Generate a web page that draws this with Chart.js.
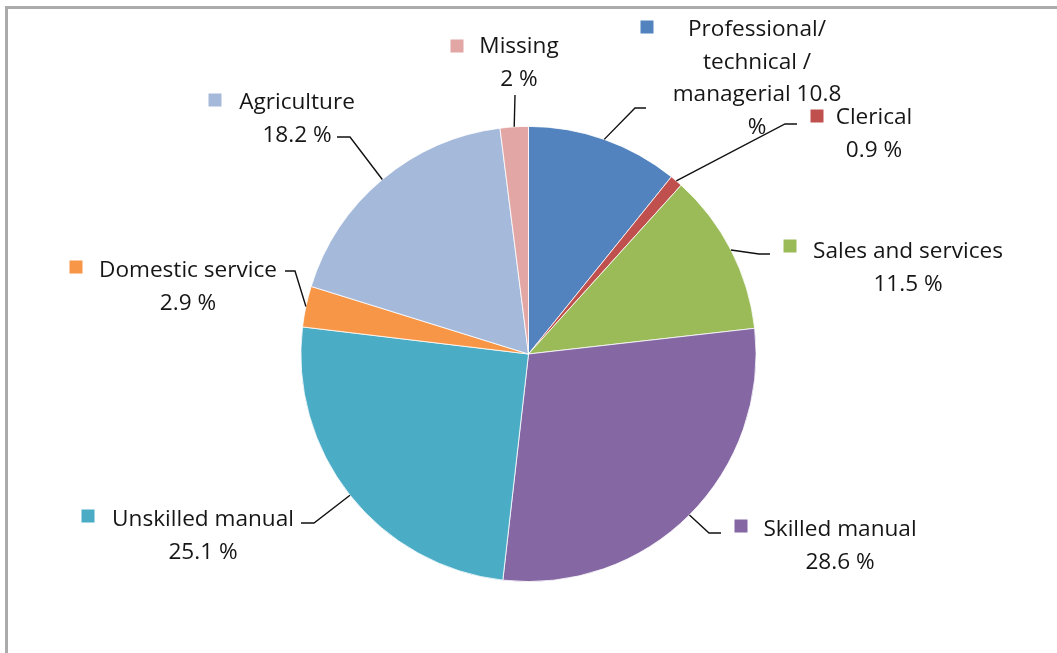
<!DOCTYPE html>
<html>
<head>
<meta charset="utf-8">
<script src="https://cdn.jsdelivr.net/npm/chart.js@4.4.1/dist/chart.umd.min.js"></script>
<style>
  html, body { margin: 0; padding: 0; background: #fff; overflow: hidden; }
  #wrap { position: relative; width: 1057px; height: 653px; }
  #frame {
    position: absolute; left: 5px; top: 6px; width: 1100px; height: 700px;
    border-left: 3px solid #ababab; border-top: 3px solid #ababab;
  }
  canvas { position: absolute; left: 0; top: 0; }
</style>
</head>
<body>
<div id="wrap">
  <div id="frame"></div>
  <canvas id="pie" width="1057" height="653"></canvas>
</div>
<script>
const categories = [
  'Professional/ technical / managerial',
  'Clerical',
  'Sales and services',
  'Skilled manual',
  'Unskilled manual',
  'Domestic service',
  'Agriculture',
  'Missing'
];
const shares = [10.8, 0.9, 11.5, 28.6, 25.1, 2.9, 18.2, 2];
const colors = ['#5383be', '#c0504d', '#9bbb59', '#8467a3', '#4bacc6', '#f79646', '#a5b9db', '#e2a6a5'];

// text lines for each label (percentage is appended from shares)
const labelLines = [
  ['Professional/', 'technical /', 'managerial {v}', '%'],
  ['Clerical', '{v} %'],
  ['Sales and services', '{v} %'],
  ['Skilled manual', '{v} %'],
  ['Unskilled manual', '{v} %'],
  ['Domestic service', '{v} %'],
  ['Agriculture', '{v} %'],
  ['Missing', '{v} %']
];

// label placement: text centre x, first line middle y, key square centre, leader elbow and end
const labelLayout = [
  { cx: 757, y: 30, key: [647, 27], elbow: [635, 108], end: [646, 108] },
  { cx: 874, y: 118, key: [817, 116], elbow: [785, 124], end: [797, 124] },
  { cx: 908, y: 252, key: [790, 246], elbow: [759, 254], end: [770, 254] },
  { cx: 840, y: 530, key: [741, 526], elbow: [709, 533], end: [721, 533] },
  { cx: 203, y: 520, key: [88, 516], elbow: [314, 523], end: [301, 523] },
  { cx: 188, y: 271, key: [76, 267], elbow: [295, 271], end: [285, 271] },
  { cx: 297, y: 103, key: [215, 100], elbow: [350, 137], end: [337, 137] },
  { cx: 519, y: 47, key: [457, 46], elbow: [515, 95], end: [515, 95] }
];

const lineGap = 32.5;

const calloutPlugin = {
  id: 'callouts',
  afterDraw(chart) {
    const ctx = chart.ctx;
    const arcs = chart.getDatasetMeta(0).data;
    ctx.save();
    arcs.forEach((arc, i) => {
      const p = arc.getProps(['x', 'y', 'startAngle', 'endAngle', 'outerRadius'], true);
      const mid = (p.startAngle + p.endAngle) / 2;
      const ax = p.x + Math.cos(mid) * p.outerRadius;
      const ay = p.y + Math.sin(mid) * p.outerRadius;
      const lay = labelLayout[i];

      // leader line
      ctx.strokeStyle = '#111';
      ctx.lineWidth = 1.4;
      ctx.beginPath();
      ctx.moveTo(ax, ay);
      ctx.lineTo(lay.elbow[0], lay.elbow[1]);
      ctx.lineTo(lay.end[0], lay.end[1]);
      ctx.stroke();

      // key square
      ctx.fillStyle = colors[i];
      ctx.fillRect(lay.key[0] - 6.5, lay.key[1] - 6.5, 13, 13);

      // text
      ctx.fillStyle = '#161616';
      ctx.font = '22.6px "Open Sans", sans-serif';
      ctx.textAlign = 'center';
      ctx.textBaseline = 'middle';
      labelLines[i].forEach((t, k) => {
        ctx.fillText(t.replace('{v}', shares[i]), lay.cx, lay.y + k * lineGap);
      });
    });
    ctx.restore();
  }
};

new Chart(document.getElementById('pie'), {
  type: 'pie',
  data: {
    labels: categories,
    datasets: [{
      data: shares,
      backgroundColor: colors,
      borderColor: '#ffffff',
      borderWidth: 0.8
    }]
  },
  options: {
    responsive: false,
    animation: false,
    layout: { padding: { left: 300, right: 300, top: 126, bottom: 71 } },
    plugins: {
      legend: { display: false },
      tooltip: { enabled: false }
    }
  },
  plugins: [calloutPlugin]
});
</script>
</body>
</html>
